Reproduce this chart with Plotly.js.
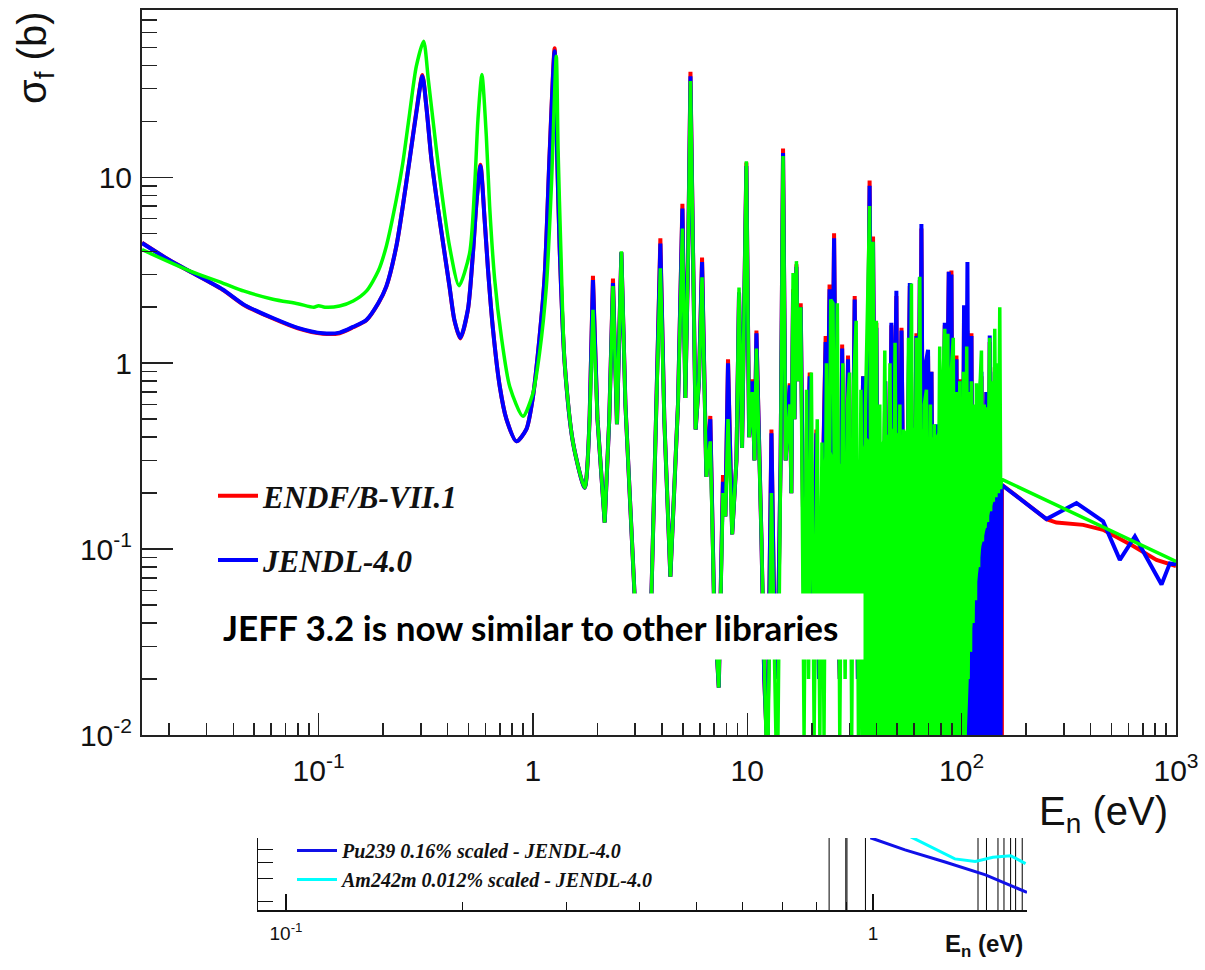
<!DOCTYPE html>
<html><head><meta charset="utf-8">
<script src="https://cdn.plot.ly/plotly-3.0.1.min.js"></script>
<style>html,body{margin:0;padding:0;background:#fff;}#chart{width:1205px;height:970px;}</style>
</head><body><div id="chart"></div>
<script>
// ---------- main chart data (energy in eV, cross-section in barns) ----------
const energyRRR = [
 0.015, 0.02, 0.025, 0.0357, 0.045, 0.0612, 0.08, 0.1047, 0.1253, 0.145,
 0.167, 0.19, 0.207, 0.2305, 0.247, 0.266, 0.2856, 0.305, 0.318, 0.336,
 0.354, 0.367, 0.408, 0.43, 0.458, 0.497, 0.525, 0.545, 0.569, 0.595,
 0.617, 0.651, 0.70, 0.752, 0.837, 0.931, 1.0, 1.074, 1.134, 1.197,
 1.262, 1.294, 1.332, 1.406, 1.537, 1.743, 1.839, 1.905, 2.0, 2.161,
 2.27, 2.362, 2.466, 2.585, 2.7, 2.983, 3.25, 3.568, 3.75, 3.93,
 4.1, 4.376, 4.75, 4.98, 5.14, 5.3, 5.43, 5.58, 5.74, 5.95,
 6.15, 6.44, 6.72, 7.0, 7.36, 7.70, 7.9, 8.13, 8.5, 8.9,
 9.15, 9.45, 9.9, 10.2, 10.56, 10.8, 11.03, 11.64, 12.0, 12.4,
 12.96, 13.3, 13.8, 14.3, 14.68, 15.1, 15.78, 16.05, 16.35, 16.6,
 16.95, 17.3, 17.75, 18.4, 19.55, 20.2, 21.0, 21.6, 22.5, 23.2,
 23.7, 24.2, 24.8, 25.4, 26.2, 27.0, 27.7, 28.5, 29.5, 30.5,
 31.7, 32.8, 34.7, 35.7, 37.2, 38.0, 38.6, 39.3, 40.0, 40.8,
 41.5, 42.8, 44.0, 45.5, 47.0, 48.2, 49.6, 50.8, 52.4, 54.5,
 57.3, 59.3, 61.5, 62.8, 63.8, 64.4, 64.9, 66.5, 68.0, 69.7,
 71.0, 72.3, 74.0, 76.3, 78.0, 80.5, 82.0, 83.4, 85.0, 87.1,
 88.2, 89.6, 91.5, 93.0, 94.6, 96.5, 98.0, 100.0, 102.6, 104.0,
 106.4, 108.5, 111.1, 113.0, 116.0, 118.5, 121.0, 123.7, 126.0, 130.5,
 133.0, 135.2, 138.0, 142.7, 146.0, 150.6, 152.0
];
const sigmaJendlRRR = [
 4.43, 3.6, 3.12, 2.49, 2.06, 1.75, 1.55, 1.45, 1.46, 1.57,
 1.71, 2.11, 2.59, 4.26, 6.98, 12.5, 22.2, 35, 24.1, 12.5,
 7.9, 5.9, 2.59, 1.71, 1.37, 1.94, 3.92, 7.28, 11.5, 5.91,
 3.19, 1.52, 0.75, 0.50, 0.38, 0.44, 0.66, 1.39, 2.94, 13.5,
 47.6, 14.6, 4.2, 1.0, 0.375, 0.214, 0.52, 2.8, 0.5, 0.139,
 0.5, 2.7, 0.47, 3.95, 0.6, 0.055, 0.03, 0.055, 0.5, 4.4,
 0.5, 0.071, 0.6, 6.8, 0.65, 4.0, 35, 3.0, 0.44, 0.8,
 3.5, 0.245, 0.5, 0.05, 0.018, 0.23, 0.15, 1.0, 0.12, 0.3,
 2.4, 0.35, 11.5, 0.4, 0.8, 0.3, 1.45, 0.114, 0.02, 0.008,
 0.42, 0.06, 0.02, 0.3, 13.5, 0.3, 0.76, 0.2, 2.4, 0.5,
 3.3, 0.8, 2.0, 0.05, 0.85, 0.03, 0.42, 0.02, 0.25, 1.3,
 0.4, 2.5, 0.3, 4.7, 0.1, 0.02, 1.2, 0.05, 1.05, 0.03,
 2.2, 0.02, 0.85, 0.04, 9.0, 0.5, 4.5, 0.3, 1.55, 0.05,
 0.29, 0.02, 0.8, 0.03, 1.65, 0.2, 2.45, 0.03, 1.5, 0.02,
 2.7, 0.04, 1.4, 0.2, 2.9, 0.8, 5.6, 0.03, 1.0, 1.18,
 0.1, 0.9, 0.02, 0.47, 0.03, 0.8, 0.1, 1.65, 0.3, 3.1,
 0.5, 3.0, 0.02, 0.5, 1.05, 0.02, 0.8, 0.01, 2.05, 0.05,
 3.5, 0.02, 1.4, 0.01, 0.5, 0.01, 0.6, 0.9, 0.01, 0.7,
 0.01, 1.41, 0.01, 0.9, 0.01, 0.5, 0.01
];
const sigmaEndfRRR = [
 4.45, 3.6, 3.12, 2.48, 2.05, 1.74, 1.54, 1.44, 1.45, 1.56,
 1.70, 2.10, 2.58, 4.25, 6.98, 12.6, 22.5, 35.5, 24.3, 12.5,
 7.9, 5.9, 2.58, 1.70, 1.36, 1.93, 3.92, 7.3, 11.7, 5.95,
 3.2, 1.52, 0.75, 0.50, 0.38, 0.44, 0.66, 1.39, 2.94, 13.8,
 49.5, 14.8, 4.2, 1.0, 0.375, 0.214, 0.52, 2.95, 0.5, 0.139,
 0.5, 2.85, 0.47, 3.95, 0.6, 0.055, 0.03, 0.055, 0.5, 4.7,
 0.5, 0.071, 0.6, 7.2, 0.65, 4.0, 37, 3.0, 0.44, 0.8,
 3.7, 0.245, 0.52, 0.05, 0.018, 0.25, 0.15, 1.05, 0.12, 0.3,
 2.4, 0.35, 12.0, 0.4, 0.82, 0.3, 1.5, 0.114, 0.02, 0.008,
 0.44, 0.06, 0.02, 0.3, 14.3, 0.3, 0.78, 0.2, 2.5, 0.5,
 3.4, 0.8, 2.1, 0.05, 0.89, 0.03, 0.44, 0.02, 0.25, 1.4,
 0.4, 2.65, 0.3, 5.0, 0.1, 0.02, 1.26, 0.05, 1.1, 0.03,
 2.3, 0.02, 0.85, 0.04, 9.6, 0.5, 4.8, 0.3, 1.65, 0.05,
 0.31, 0.02, 0.8, 0.03, 1.6, 0.2, 2.3, 0.03, 1.55, 0.02,
 2.6, 0.04, 1.45, 0.2, 2.8, 0.8, 5.3, 0.03, 1.0, 1.1,
 0.1, 0.9, 0.02, 0.45, 0.03, 0.8, 0.1, 1.6, 0.3, 3.1,
 0.5, 3.15, 0.02, 0.5, 1.1, 0.02, 0.82, 0.01, 1.9, 0.05,
 1.5, 0.02, 1.45, 0.01, 0.5, 0.01, 0.6, 0.85, 0.01, 0.7,
 0.01, 1.3, 0.01, 0.95, 0.01, 0.5, 0.01
];
// above the resolved region
const energyEndfHigh = [154.0, 154.1, 200.6, 248.7, 276.8, 368.8, 457, 631, 811, 1000];
const sigmaEndfHigh  = [0.0005, 0.222, 0.177, 0.145, 0.139, 0.135, 0.127, 0.104, 0.0875, 0.081];
const energyJendlHigh = [153.4, 248.7, 343.4, 457, 547, 643, 856, 936, 1000];
const sigmaJendlHigh  = [0.222, 0.145, 0.177, 0.141, 0.0875, 0.117, 0.0645, 0.0838, 0.0829];
// JENDL dense resonances just below 150 eV (solid blue band)
const energyJendlDense = [100, 100, 153.4, 153.4];
const sigmaJendlDense  = [0.004, 0.3, 0.222, 0.004];

const energyJeff = [
 0.015, 0.025, 0.0357, 0.045, 0.0612, 0.08, 0.095, 0.1, 0.107, 0.1253,
 0.145, 0.167, 0.19, 0.207, 0.2305, 0.247, 0.266, 0.2856, 0.309, 0.325,
 0.3415, 0.367, 0.408, 0.452, 0.5066, 0.5346, 0.5538, 0.578, 0.606, 0.628,
 0.663, 0.712, 0.779, 0.898, 1.0, 1.074, 1.155, 1.219, 1.285, 1.31,
 1.35, 1.406, 1.537, 1.743, 1.839, 1.905, 2.0, 2.161, 2.27, 2.362,
 2.466, 2.585, 2.7, 2.983, 3.25, 3.568, 3.75, 3.93, 4.1, 4.376,
 4.75, 4.98, 5.14, 5.3, 5.43, 5.58, 5.74, 5.95, 6.15, 6.44,
 6.72, 7.0, 7.36, 7.70, 7.9, 8.13, 8.5, 8.9, 9.15, 9.45,
 9.9, 10.2, 10.56, 10.8, 11.03, 11.64, 12.0, 12.4, 12.96, 13.3,
 13.8, 14.3, 14.68, 15.1, 15.78, 16.05, 16.35, 16.6, 16.95, 17.3,
 17.75, 18.4, 18.9, 19.3, 19.9, 20.5, 21.2, 21.8, 22.3, 22.8,
 23.4, 24.0, 24.5, 25.1, 25.6, 26.3, 27.0, 27.9, 28.6, 29.3,
 30.0, 30.7, 31.4, 32.2, 33.0, 33.9, 35.0, 35.6, 37.2, 37.9,
 38.6, 39.3, 40.0, 40.7, 41.5, 42.3, 43.8, 44.9, 46.3, 47.5,
 48.9, 50.2, 51.5, 52.5, 53.6, 55.0, 56.5, 57.3, 58.3, 59.5,
 61.5, 62.6, 63.8, 65.5, 67.0, 68.5, 70.0, 71.5, 72.8, 74.6,
 76.5, 79.0, 80.5, 81.8, 83.4, 84.8, 86.2, 88.0, 89.5, 91.4,
 93.0, 95.0, 96.5, 98.0, 100.0, 102.0, 103.4, 105.6, 107.2, 109.1,
 110.0, 111.1, 113.0, 115.1, 116.0, 117.2, 120.0, 121.5, 123.7, 125.0,
 127.5, 128.5, 130.5, 132.0, 135.2, 136.5, 139.0, 140.5, 142.7, 144.5,
 147.5, 148.5, 150.6, 152.0, 153.4, 1000
];
const sigmaJeff = [
 4.08, 3.14, 2.70, 2.44, 2.21, 2.09, 2.0, 2.04, 2.0, 2.03,
 2.16, 2.44, 3.14, 4.26, 7.6, 11.9, 22.2, 39.5, 54, 33.5,
 20.4, 10.1, 4.26, 2.61, 3.92, 8.95, 20.4, 35.7, 16.6, 6.98,
 2.82, 1.39, 0.75, 0.518, 0.69, 1.14, 2.59, 8.95, 44.8, 14,
 4.0, 1.0, 0.375, 0.214, 0.52, 1.94, 0.5, 0.139, 0.5, 2.6,
 0.47, 4.0, 0.6, 0.055, 0.03, 0.055, 0.5, 3.24, 0.5, 0.071,
 0.6, 5.3, 0.65, 4.0, 33, 3.0, 0.44, 0.8, 2.9, 0.245,
 0.38, 0.05, 0.018, 0.2, 0.15, 0.5, 0.12, 0.3, 2.55, 0.35,
 12.2, 0.4, 0.7, 0.3, 1.2, 0.114, 0.02, 0.005, 0.2, 0.02,
 0.004, 0.3, 13, 0.3, 0.6, 0.2, 3.06, 0.5, 3.54, 0.8,
 2.0, 0.01, 0.72, 0.02, 0.89, 0.01, 0.5, 0.01, 0.375, 0.01,
 1.0, 0.05, 2.2, 2.1, 0.1, 2.1, 0.01, 1.0, 0.02, 0.6,
 0.89, 0.01, 0.8, 1.69, 0.01, 0.72, 0.01, 0.6, 7.0, 0.02,
 4.5, 0.02, 1.69, 0.01, 0.6, 0.01, 1.17, 0.01, 1.0, 0.01,
 1.29, 0.01, 0.6, 0.01, 0.44, 0.01, 1.37, 0.05, 2.68, 0.01,
 1.37, 0.01, 2.92, 0.01, 0.6, 0.72, 0.01, 0.6, 0.01, 0.47,
 0.01, 1.23, 0.01, 0.8, 1.53, 0.01, 1.44, 0.01, 0.9, 1.37,
 0.01, 0.7, 0.01, 0.8, 0.008, 0.9, 0.008, 1.23, 0.02, 0.7,
 0.028, 0.8, 0.04, 0.6, 0.053, 0.78, 0.08, 0.7, 1.17, 0.11,
 0.6, 0.13, 0.58, 0.14, 1.37, 0.16, 0.8, 0.18, 1.53, 0.19,
 1.0, 0.2, 2.0, 0.21, 0.238, 0.0858
];
// JEFF dense resonance core (solid green mass, 21-153 eV)
const energyJeffCore = [21, 22, 24, 26, 28, 30, 33, 36, 40, 44, 48, 52, 56, 60, 65, 70, 75, 80, 86, 92, 98, 104, 110, 118, 126, 134, 142, 150, 153.4,
  153.4, 145.3, 135.2, 123.7, 115.1, 109.1, 103.4, 34, 33, 21];
const sigmaJeffCore = [0.03, 0.28, 0.35, 0.3, 0.28, 0.35, 0.3, 0.4, 0.35, 0.4, 0.45, 0.4, 0.45, 0.45, 0.45, 0.4, 0.4, 0.45, 0.5, 0.45, 0.5, 0.5, 0.5, 0.55, 0.55, 0.55, 0.6, 0.6, 0.5,
  0.227, 0.2, 0.157, 0.104, 0.053, 0.028, 0.005, 0.005, 0.03, 0.03];

// main axis tick labels
const mainXTicks = [0.1, 1, 10, 100, 1000];
const mainXTickText = ['10<sup>-1</sup>', '1', '10', '10<sup>2</sup>', '10<sup>3</sup>'];
const mainYTicks = [0.01, 0.1, 1, 10];
const mainYTickText = ['10<sup>-2</sup>', '10<sup>-1</sup>', '1', '10'];

// ---------- bottom strip (cropped second figure) ----------
const stripPuEnergy = [0.99, 1.134, 1.327, 1.555, 1.83];
const stripPuValue  = [6.2, 5.0, 4.03, 3.21, 2.35];
const stripAmEnergy = [1.16, 1.379, 1.494, 1.601, 1.716, 1.82];
const stripAmValue  = [6.3, 4.26, 4.07, 4.39, 4.51, 3.92];
const stripSpikeEnergy = [0.842, 0.899, 0.903, 0.971, 1.51, 1.561, 1.633, 1.672, 1.716, 1.75, 1.796];
const stripXTicks = [0.1, 1];
const stripXTickText = ['10<sup>-1</sup>', '1'];
const stripYTicks = [2, 3, 4, 5];

// ---------- build ----------
const minorTicks = (lo, hi) => { const v = []; for (let d = lo; d <= hi; d++) for (let k = 2; k <= 9; k++) v.push(k * Math.pow(10, d)); return v; };
const mainXMinor = minorTicks(-2, 2);
const mainYMinor = minorTicks(-2, 1).filter(v => v < 80);
const stripXMinor = [0.2, 0.3, 0.4, 0.5, 0.6, 0.7, 0.8, 0.9];

const spikeX = [], spikeY = [];
stripSpikeEnergy.forEach(e => { spikeX.push(e, e, null); spikeY.push(1.5, 7, null); });

// smooth (spline) part below ~1.84 eV, resonances drawn point-to-point above
const splitRRR = energyRRR.indexOf(1.839);
const splitJeff = energyJeff.indexOf(1.839);

const RED = '#ff0000', BLUE = '#0000ff', GREEN = '#00ff00';
const sans = 'Liberation Sans, Arial, sans-serif';
const serif = 'Liberation Serif, Times New Roman, serif';
const smooth = {shape: 'spline', smoothing: 0.7};

const traces = [
 {x: energyRRR.slice(0, splitRRR + 1), y: sigmaEndfRRR.slice(0, splitRRR + 1), type: 'scatter', mode: 'lines',
  line: Object.assign({color: RED, width: 4}, smooth), showlegend: false},
 {x: energyRRR.slice(splitRRR).concat(energyEndfHigh), y: sigmaEndfRRR.slice(splitRRR).concat(sigmaEndfHigh), type: 'scatter', mode: 'lines',
  name: 'ENDF/B-VII.1', line: {color: RED, width: 4}, legendgroup: 'a', legend: 'legend'},
 {x: energyRRR.slice(0, splitRRR + 1), y: sigmaJendlRRR.slice(0, splitRRR + 1), type: 'scatter', mode: 'lines',
  line: Object.assign({color: BLUE, width: 4}, smooth), showlegend: false},
 {x: energyRRR.slice(splitRRR).concat(energyJendlHigh), y: sigmaJendlRRR.slice(splitRRR).concat(sigmaJendlHigh), type: 'scatter', mode: 'lines',
  name: 'JENDL-4.0', line: {color: BLUE, width: 4}, legendgroup: 'b', legend: 'legend'},
 {x: energyJendlDense, y: sigmaJendlDense, type: 'scatter', mode: 'lines', fill: 'toself', fillcolor: BLUE,
  line: {width: 0, color: BLUE}, showlegend: false, hoverinfo: 'skip'},
 {x: energyJeffCore, y: sigmaJeffCore, type: 'scatter', mode: 'lines', fill: 'toself', fillcolor: GREEN,
  line: {width: 0, color: GREEN}, showlegend: false, hoverinfo: 'skip'},
 {x: energyJeff.slice(0, splitJeff + 1), y: sigmaJeff.slice(0, splitJeff + 1), type: 'scatter', mode: 'lines',
  line: Object.assign({color: GREEN, width: 3.5}, smooth), showlegend: false},
 {x: energyJeff.slice(splitJeff), y: sigmaJeff.slice(splitJeff), type: 'scatter', mode: 'lines', name: 'JEFF-3.2',
  line: {color: GREEN, width: 3.5}, showlegend: false},
 {x: spikeX, y: spikeY, xaxis: 'x2', yaxis: 'y2', type: 'scatter', mode: 'lines',
  line: {color: '#000', width: 1}, showlegend: false, connectgaps: false},
 {x: stripPuEnergy, y: stripPuValue, xaxis: 'x2', yaxis: 'y2', type: 'scatter', mode: 'lines',
  name: 'Pu239 0.16% scaled - JENDL-4.0', line: {color: '#1010e8', width: 3}, legend: 'legend2'},
 {x: stripAmEnergy, y: stripAmValue, xaxis: 'x2', yaxis: 'y2', type: 'scatter', mode: 'lines',
  name: 'Am242m 0.012% scaled - JENDL-4.0', line: {color: '#00ffff', width: 3}, legend: 'legend2'}
];

const W = 1205, H = 970;
const px = v => v / W, py = v => 1 - v / H;

const layout = {
 width: W, height: H, margin: {l: 0, r: 0, t: 0, b: 0},
 paper_bgcolor: '#fff', plot_bgcolor: 'rgba(0,0,0,0)', hovermode: false, showlegend: true,
 xaxis: {type: 'log', domain: [px(142), px(1176)], range: [Math.log10(0.015), 3], anchor: 'y',
  tickmode: 'array', tickvals: mainXTicks, ticktext: mainXTickText, ticks: 'inside', ticklen: 22, tickwidth: 1.5, tickcolor: '#222',
  showline: true, mirror: true, linecolor: '#222', linewidth: 2, showgrid: false, zeroline: false,
  tickfont: {family: sans, size: 30, color: '#111'}, ticklabelstandoff: 8,
  minor: {tickmode: 'array', tickvals: mainXMinor, ticks: 'inside', ticklen: 12, tickwidth: 1.5, tickcolor: '#222', showgrid: false}},
 yaxis: {type: 'log', domain: [py(735), py(10)], range: [-2, 1.9], anchor: 'x',
  tickmode: 'array', tickvals: mainYTicks, ticktext: mainYTickText, ticks: 'inside', ticklen: 31, tickwidth: 1.5, tickcolor: '#222',
  showline: true, mirror: true, linecolor: '#222', linewidth: 2, showgrid: false, zeroline: false,
  tickfont: {family: sans, size: 30, color: '#111'}, ticklabelstandoff: 2,
  minor: {tickmode: 'array', tickvals: mainYMinor, ticks: 'inside', ticklen: 15, tickwidth: 1.5, tickcolor: '#222', showgrid: false}},
 xaxis2: {type: 'log', domain: [px(258), px(1027)], range: [Math.log10(0.0896), Math.log10(1.83)], anchor: 'y2',
  tickmode: 'array', tickvals: stripXTicks, ticktext: stripXTickText, ticks: 'inside', ticklen: 16, tickwidth: 1.2, tickcolor: '#111',
  showline: true, mirror: false, linecolor: '#111', linewidth: 1.5, showgrid: false, zeroline: false,
  tickfont: {family: sans, size: 19, color: '#111'}, ticklabelstandoff: 6,
  minor: {tickmode: 'array', tickvals: stripXMinor, ticks: 'inside', ticklen: 8, tickwidth: 1, tickcolor: '#111', showgrid: false}},
 yaxis2: {type: 'log', domain: [py(910), py(838)], range: [Math.log10(1.72), Math.log10(6.17)], anchor: 'x2',
  tickmode: 'array', tickvals: stripYTicks, ticks: 'inside', ticklen: 15, tickwidth: 1.2, tickcolor: '#111', showticklabels: false,
  showline: true, mirror: false, linecolor: '#111', linewidth: 1.5, showgrid: false, zeroline: false},
 legend: {x: px(213), y: py(469), xanchor: 'left', yanchor: 'top', bgcolor: 'rgba(0,0,0,0)', borderwidth: 0,
  font: {family: serif, size: 31, weight: 'bold', style: 'italic', color: '#111'}, tracegroupgap: 21, itemwidth: 40, traceorder: 'grouped'},
 legend2: {x: px(292), y: py(831), xanchor: 'left', yanchor: 'top', bgcolor: 'rgba(0,0,0,0)', borderwidth: 0,
  font: {family: serif, size: 20, weight: 'bold', style: 'italic', color: '#111'}, tracegroupgap: 0, itemwidth: 40},
 annotations: [
  {text: 'σ<sub>f</sub> (b)', xref: 'paper', yref: 'paper', x: px(35), y: py(58), xanchor: 'center', yanchor: 'middle',
   textangle: -90, showarrow: false, font: {family: sans, size: 40, color: '#111'}},
  {text: 'E<sub>n</sub> (eV)', xref: 'paper', yref: 'paper', x: px(1170), y: py(814), xanchor: 'right', yanchor: 'middle',
   showarrow: false, font: {family: sans, size: 40, color: '#111'}},
  {text: 'JEFF 3.2 is now similar to other libraries', xref: 'paper', yref: 'paper', x: px(213), y: py(593),
   xanchor: 'left', yanchor: 'top', showarrow: false, bgcolor: '#ffffff', borderpad: 9, width: 631, height: 47,
   align: 'left', valign: 'middle', font: {family: 'Lato, Carlito, Noto Sans, sans-serif', size: 35, weight: 'bold', color: '#000'}},
  {text: 'E<sub>n</sub> (eV)', xref: 'paper', yref: 'paper', x: px(1025), y: py(945), xanchor: 'right', yanchor: 'middle',
   showarrow: false, font: {family: sans, size: 24, weight: 'bold', color: '#111'}}
 ]
};

Plotly.newPlot('chart', traces, layout, {staticPlot: true, displayModeBar: false});
</script></body></html>
